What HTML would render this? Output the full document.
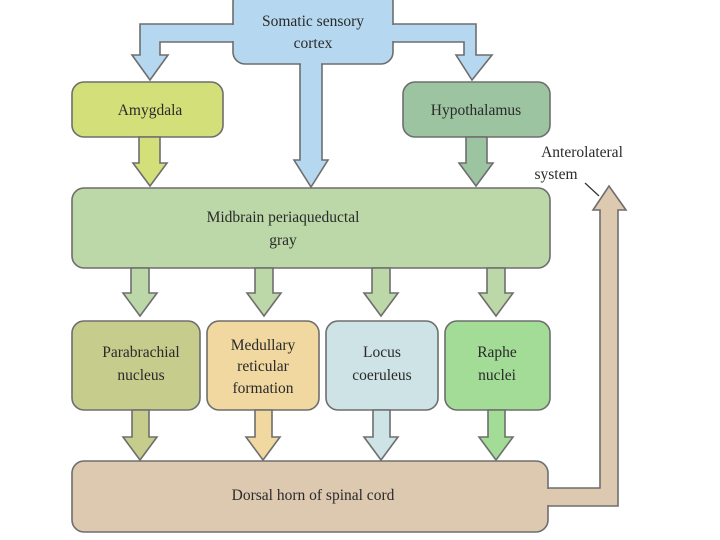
<!DOCTYPE html>
<html><head><meta charset="utf-8"><style>
html,body{margin:0;padding:0;background:#fff;}
svg{display:block;}
text{font-family:"Liberation Serif",serif;font-size:15.5px;fill:#2a2a2a;text-anchor:middle;}
.s{stroke:#6e6e6e;stroke-width:1.6;}
</style></head><body>
<svg width="720" height="540" viewBox="0 0 720 540" xmlns="http://www.w3.org/2000/svg">
<!-- top blue arrows -->
<polygon class="s" fill="#b5d8f0" points="240,24 140,24 140,55 132,55 150,80 168,55 160,55 160,42 240,42"/>
<polygon class="s" fill="#b5d8f0" points="385,24 476,24 476,55 492,55 472,80 456,55 464,55 464,42 385,42"/>
<polygon class="s" fill="#b5d8f0" points="300,55 322,55 322,160 328,160 311,187 294,160 300,160"/>
<rect class="s" fill="#b5d8f0" x="233" y="-10" width="160" height="74" rx="12"/>
<rect fill="#b5d8f0" x="228" y="25" width="10" height="16"/>
<rect fill="#b5d8f0" x="389" y="25" width="10" height="16"/>
<rect fill="#b5d8f0" x="301" y="60" width="20" height="8"/>
<text x="313" y="26">Somatic sensory</text>
<text x="313" y="48">cortex</text>
<!-- amygdala / hypothalamus -->
<rect class="s" fill="#d3e07a" x="72" y="82" width="151" height="55" rx="12"/>
<text x="150" y="115">Amygdala</text>
<rect class="s" fill="#9dc4a0" x="403" y="82" width="147" height="55" rx="12"/>
<text x="476" y="115">Hypothalamus</text>
<polygon class="s" fill="#d3e07a" points="139,137 160,137 160,163 167,163 150,186 133,163 139,163"/>
<polygon class="s" fill="#9dc4a0" points="466,137 487,137 487,163 493,163 476,186 459,163 466,163"/>
<!-- midbrain -->
<rect class="s" fill="#bcd8a8" x="72" y="188" width="478" height="80" rx="12"/>
<text x="283" y="222">Midbrain periaqueductal</text>
<text x="283" y="245">gray</text>
<!-- arrows to nuclei -->
<g fill="#bcd8a8" class="s">
<polygon points="131,268 149,268 149,293 157,293 140,316 123,293 131,293"/>
<polygon points="255,268 273,268 273,293 281,293 264,316 247,293 255,293"/>
<polygon points="372,268 390,268 390,293 398,293 381,316 364,293 372,293"/>
<polygon points="487,268 505,268 505,293 513,293 496,316 479,293 487,293"/>
</g>
<!-- nuclei boxes -->
<rect class="s" fill="#c6cc8c" x="72" y="321" width="128" height="89" rx="12"/>
<text x="141" y="357">Parabrachial</text><text x="141" y="380">nucleus</text>
<rect class="s" fill="#f0d8a0" x="207" y="321" width="112" height="89" rx="12"/>
<text x="263" y="350">Medullary</text><text x="263" y="371">reticular</text><text x="263" y="393">formation</text>
<rect class="s" fill="#cde3e6" x="326" y="321" width="112" height="89" rx="12"/>
<text x="382" y="357">Locus</text><text x="382" y="380">coeruleus</text>
<rect class="s" fill="#a3dc96" x="445" y="321" width="105" height="89" rx="12"/>
<text x="497" y="357">Raphe</text><text x="497" y="380">nuclei</text>
<!-- arrows to dorsal horn -->
<polygon class="s" fill="#c6cc8c" points="132,410 149,410 149,437 157,437 140,460 123,437 132,437"/>
<polygon class="s" fill="#f0d8a0" points="255,410 272,410 272,437 280,437 263,460 246,437 255,437"/>
<polygon class="s" fill="#cde3e6" points="373,410 390,410 390,437 398,437 381,460 364,437 373,437"/>
<polygon class="s" fill="#a3dc96" points="488,410 505,410 505,437 513,437 496,460 479,437 488,437"/>
<!-- anterolateral tube -->
<polygon class="s" fill="#ddc8b0" points="540,488 600,488 600,210 593,210 609,186 626,210 618,210 618,506 540,506"/>
<rect class="s" fill="#ddc8b0" x="72" y="461" width="476" height="71" rx="12"/>
<rect fill="#ddc8b0" x="545" y="489" width="8" height="16"/>
<text x="313" y="500">Dorsal horn of spinal cord</text>
<text x="582" y="157">Anterolateral</text>
<text x="556" y="179">system</text>
<line x1="585" y1="183" x2="599" y2="196" stroke="#333" stroke-width="1.2"/>
</svg>
</body></html>
